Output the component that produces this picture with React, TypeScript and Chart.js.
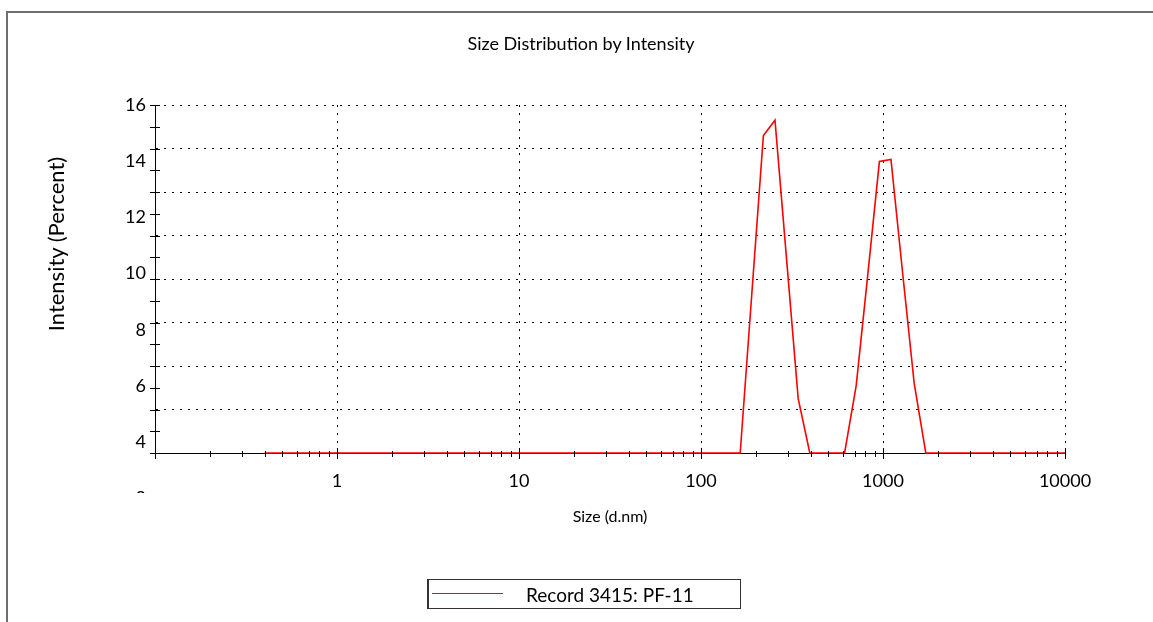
import React, { useEffect, useRef } from "react";
import { Chart, registerables } from "chart.js";

Chart.register(...registerables);

// Size bins (d.nm)
const sizes: number[] = [
  0.4, 0.4632, 0.5365, 0.6213, 0.7195, 0.8332, 0.9649, 1.117, 1.294, 1.499,
  1.736, 2.01, 2.328, 2.696, 3.122, 3.615, 4.187, 4.849, 5.615, 6.503,
  7.531, 8.721, 10.1, 11.7, 13.54, 15.69, 18.17, 21.04, 24.36, 28.21,
  32.67, 37.84, 43.82, 50.75, 58.77, 68.06, 78.82, 91.28, 105.7, 122.4,
  141.8, 164.2, 190.1, 220.2, 255.0, 295.3, 342.0, 396.1, 458.7, 531.2,
  615.1, 712.4, 825.0, 955.4, 1106, 1281, 1484, 1718, 1990, 2305,
  2669, 3091, 3580, 4145, 4801, 5560, 6439, 7456, 8635, 10000,
];

// Intensity (Percent) for each bin
const intensity: number[] = [
  0, 0, 0, 0, 0, 0, 0, 0, 0, 0,
  0, 0, 0, 0, 0, 0, 0, 0, 0, 0,
  0, 0, 0, 0, 0, 0, 0, 0, 0, 0,
  0, 0, 0, 0, 0, 0, 0, 0, 0, 0,
  0, 0, 7.3, 14.6, 15.3, 8.9, 2.5, 0, 0, 0,
  0, 3.1, 8.2, 13.4, 13.5, 8.3, 3.2, 0, 0, 0,
  0, 0, 0, 0, 0, 0, 0, 0, 0, 0,
];

const seriesLabel = "Record 3415: PF-11";
const chartTitle = "Size Distribution by Intensity";
const xTitle = "Size (d.nm)";
const yTitle = "Intensity (Percent)";

// Axis ticks
const xDecades: number[] = [0.1, 1, 10, 100, 1000];
const xMultipliers: number[] = [1, 2, 3, 4, 5, 6, 7, 8, 9];
const xLastTick = 10000;
const xLabelValues: number[] = [1, 10, 100, 1000, 10000];
const yGridValues: number[] = [0, 1, 2, 3, 4, 5, 6, 7, 8, 9, 10, 11, 12, 13, 14, 15, 16];
const yLabelValues: number[] = [4, 6, 8, 10, 12, 14, 16];
const yLabelClipped: number[] = [2];

const xTicks: { v: number; major: boolean }[] = [];
xDecades.forEach((d) => xMultipliers.forEach((m) => xTicks.push({ v: d * m, major: m === 1 })));
xTicks.push({ v: xLastTick, major: true });

const FONT = "Lato";

const isDecade = (v: number) => {
  const l = Math.log10(v);
  return Math.abs(l - Math.round(l)) < 1e-9;
};

const crossTicks = {
  id: "crossTicks",
  afterDatasetsDraw(chart: any) {
    const { ctx, chartArea, scales } = chart;
    const x = scales.x;
    const y = scales.y;
    const y2 = scales.y2;
    ctx.save();
    ctx.strokeStyle = "#000";
    ctx.lineWidth = 1;
    ctx.beginPath();
    xTicks.forEach((t) => {
      const px = Math.round(x.getPixelForValue(t.v)) + 0.5;
      ctx.moveTo(px, chartArea.bottom - (t.major ? 5 : 2));
      ctx.lineTo(px, chartArea.bottom + (t.major ? 6 : 4));
    });
    yGridValues.forEach((v) => {
      const py = Math.round(y.getPixelForValue(v)) + 0.5;
      ctx.moveTo(chartArea.left - 5, py);
      ctx.lineTo(chartArea.left + 5, py);
    });
    ctx.stroke();
    // label partially hidden below the axis
    ctx.beginPath();
    ctx.rect(0, 0, chartArea.left, chartArea.bottom + 40);
    ctx.clip();
    ctx.fillStyle = "#000";
    ctx.font = `18px ${FONT}`;
    ctx.textAlign = "right";
    ctx.textBaseline = "middle";
    yLabelClipped.forEach((v) => {
      ctx.fillText(String(v), y2.right - 3, y2.getPixelForValue(v));
    });
    ctx.restore();
  },
};

export default function App() {
  const canvasRef = useRef<HTMLCanvasElement | null>(null);

  useEffect(() => {
    document.body.style.margin = "0";
    const canvas = canvasRef.current;
    if (!canvas) return;
    const chart = new Chart(canvas, {
      type: "line",
      data: {
        datasets: [
          {
            label: seriesLabel,
            data: sizes.map((s, i) => ({ x: s, y: intensity[i] })),
            borderColor: "#ff0000",
            borderWidth: 1.6,
            pointRadius: 0,
            tension: 0,
            fill: false,
            clip: false as any,
          },
        ],
      },
      options: {
        animation: false,
        responsive: false,
        devicePixelRatio: 1,
        layout: { padding: { top: 105, right: 88, bottom: 0, left: 0 } },
        plugins: {
          legend: { display: false },
          tooltip: { enabled: false },
          title: { display: false },
        },
        scales: {
          x: {
            type: "logarithmic",
            min: 0.1,
            max: 10000,
            afterBuildTicks: (scale: any) => {
              scale.ticks = xTicks.map((t) => ({ value: t.v, major: t.major }));
            },
            afterFit: (scale: any) => {
              scale.height = 169;
            },
            ticks: {
              autoSkip: false,
              maxRotation: 0,
              minRotation: 0,
              padding: 17,
              color: "#000",
              font: { family: FONT, size: 18 },
              callback: (value: any) => {
                const v = Number(value);
                return xLabelValues.some((l) => Math.abs(l - v) < 1e-9) ? String(v) : "";
              },
            },
            grid: {
              drawTicks: false,
              lineWidth: 1,
              color: (ctx: any) => {
                const v = ctx.tick ? ctx.tick.value : 0;
                return v > 0.1 + 1e-9 && isDecade(v) ? "#000" : "rgba(0,0,0,0)";
              },
            },
            border: { display: true, color: "#000", width: 1, dash: [2, 6] },
            title: {
              display: true,
              text: xTitle,
              color: "#000",
              font: { family: FONT, size: 16 },
              padding: { top: 0, bottom: 96 },
            },
          },
          y: {
            type: "linear",
            position: "left",
            weight: 0,
            min: 0,
            max: 16,
            afterBuildTicks: (scale: any) => {
              scale.ticks = yGridValues.map((v) => ({ value: v }));
            },
            afterFit: (scale: any) => {
              scale.width = 6;
            },
            ticks: { display: false },
            grid: {
              drawTicks: false,
              lineWidth: 1,
              color: (ctx: any) => {
                const v = ctx.tick ? ctx.tick.value : 0;
                return v > 0 && v % 2 === 0 ? "#000" : "rgba(0,0,0,0)";
              },
            },
            border: { display: true, color: "#000", width: 1, dash: [2, 6] },
          },
          y2: {
            type: "linear",
            position: "left",
            weight: 1,
            min: 3.61,
            max: 16,
            afterBuildTicks: (scale: any) => {
              scale.ticks = yLabelValues.map((v) => ({ value: v }));
            },
            afterFit: (scale: any) => {
              scale.width = 149;
            },
            ticks: {
              padding: 3,
              color: "#000",
              font: { family: FONT, size: 18 },
            },
            grid: { display: false, drawTicks: false },
            border: { display: false },
          },
        },
      },
      plugins: [crossTicks],
    });
    return () => chart.destroy();
  }, []);

  return (
    <div style={{ position: "relative", width: 1153, height: 622, overflow: "hidden", background: "#fff" }}>
      <canvas ref={canvasRef} width={1153} height={622} style={{ position: "absolute", left: 0, top: 0, width: 1153, height: 622 }} />
      <div
        style={{
          position: "absolute",
          left: 6,
          top: 11,
          right: 0,
          bottom: 0,
          borderTop: "2px solid #6e6e6e",
          borderLeft: "2px solid #6e6e6e",
          pointerEvents: "none",
        }}
      />
      <div
        style={{
          position: "absolute",
          left: 381,
          top: 31,
          width: 400,
          textAlign: "center",
          fontFamily: FONT,
          fontSize: 18,
          lineHeight: "24px",
          color: "#000",
          whiteSpace: "nowrap",
        }}
      >
        {chartTitle}
      </div>
      <div
        style={{
          position: "absolute",
          left: 56 - 150,
          top: 244 - 14,
          width: 300,
          height: 28,
          lineHeight: "28px",
          textAlign: "center",
          transform: "rotate(-90deg)",
          fontFamily: FONT,
          fontSize: 22,
          color: "#000",
          whiteSpace: "nowrap",
        }}
      >
        {yTitle}
      </div>
      <div
        style={{
          position: "absolute",
          left: 427,
          top: 579,
          width: 311,
          height: 28,
          border: "1px solid #333",
          borderLeftWidth: 2,
          background: "#fff",
          fontFamily: FONT,
          fontSize: 19,
          color: "#000",
        }}
      >
        <div style={{ position: "absolute", left: 3, top: 13, width: 71, height: 1, background: "#ff0000" }} />
        <div style={{ position: "absolute", left: 97, top: 0, lineHeight: "30px", whiteSpace: "nowrap" }}>{seriesLabel}</div>
      </div>
    </div>
  );
}
